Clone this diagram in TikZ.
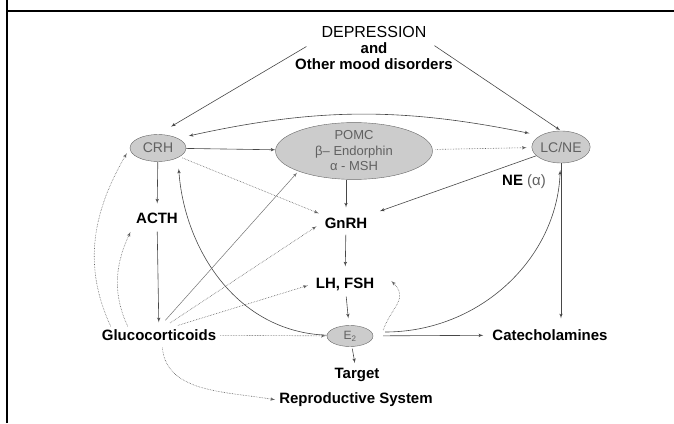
\documentclass[tikz,border=0pt]{standalone}
\usepackage{fontspec}
\setmainfont{Liberation Sans}
\usepackage{tikz}
\usetikzlibrary{arrows,shapes}
\definecolor{glandfill}{gray}{0.80}
\definecolor{glandline}{gray}{0.40}
\definecolor{glandtext}{gray}{0.38}
\definecolor{edgegray}{gray}{0.28}
\tikzstyle{gland} = [ellipse, draw=glandline, fill=glandfill, text=glandtext, inner sep=0pt, font=\fontsize{14}{16}\selectfont]
\tikzstyle{factor} = [inner sep=3pt, font=\fontsize{15}{16}\selectfont\bfseries]
\tikzstyle{line} = [draw, line width=0.6pt, color=edgegray, -latex', shorten >=4pt, shorten <=3pt]
\tikzstyle{inhib} = [line, densely dotted, color=black!62]

\begin{document}
\begin{tikzpicture}[x=1pt, y=1pt]
		\useasboundingbox (0,0) rectangle (674,423);
		% Frame
		\draw[line width=2pt] (7,0) -- (7,423);
		\draw[line width=2pt] (6,412) -- (674,412);
		% Place nodes
		\node [factor, align=center] (dep) at (374,375) {{\fontsize{16}{16}\selectfont\mdseries DEPRESSION}\\and\\Other mood disorders};
		\node [gland, minimum width=56, minimum height=27] (crh) at (158,275) {CRH};
		\node [gland, minimum width=157, minimum height=48, align=center, font=\fontsize{13}{15.5}\selectfont] (pomc) at (354,272) {POMC\\β– Endorphin\\α - MSH};
		\node [gland, minimum width=57, minimum height=32] (lcne) at (561,276) {LC/NE};
		\node [factor] (acth) at (157,205) {ACTH};
		\node [factor] (gnrh) at (346,200) {GnRH};
		\node [factor] (lhfsh) at (345,139) {LH, FSH};
		\node [factor] (gluco) at (159,88) {Glucocorticoids};
		\node [gland, minimum width=46, minimum height=21, font=\fontsize{12}{14}\selectfont] (e2) at (350,87) {E\textsubscript{2}};
		\node [factor] (cat) at (550,88) {Catecholamines};
		\node [factor] (target) at (357,48) {Target};
		\node [factor] (repro) at (356,23) {Reproductive System};
		\node [factor] (ne) at (524,241) {NE {\mdseries\color{glandtext}(α)}};
		\coordinate (depL) at (309,378);
		\coordinate (depR) at (432,379);
		% Draw edges
		\path [line, shorten >=15pt] (depL) -- (crh.north);
		\path [line, shorten >=1pt] (depR) -- (lcne.north);
		\path [line, latex'-latex', shorten <=11pt, shorten >=11pt] (crh.north east) to[bend left=12] (lcne.north west);
		\path [line, shorten >=0pt, shorten <=0pt] (crh) -- (pomc);
		\path [inhib, shorten >=5pt] (pomc) -- (lcne);
		\path [inhib, shorten >=3pt] (crh) -- (gnrh.north west);
		\path [line, shorten <=0pt, shorten >=7pt] (gnrh.north |- pomc.south) -- (gnrh.north);
		\path [line, shorten <=0pt, shorten >=10pt] (lcne) -- (gnrh.north east);
		\path [line, shorten <=0pt, shorten >=6pt] (crh) -- (acth);
		\path [line, shorten <=5pt, shorten >=4pt] (acth) -- (gluco);
		\path [line, shorten >=8pt] (gnrh) -- (lhfsh);
		\path [line, shorten >=7pt] (lhfsh) -- (e2);
		\path [line, shorten <=2pt, shorten >=2pt] (e2) -- (target);
		\path [line, shorten <=10pt, shorten >=6pt] (e2) -- (cat);
		\path [line, shorten <=0pt, shorten >=8pt] (lcne.south) -- (lcne.south |- cat.north);
		\path [line, shorten <=0pt, shorten >=7pt] ([xshift=12pt,yshift=4pt]e2.east) to[out=0, in=-92] (lcne);
		\path [line, shorten <=0pt, shorten >=11pt] (e2) to[out=178, in=-86] (crh.south east);
		\path [inhib, shorten <=0pt, shorten >=6pt] ([xshift=12pt]gluco.north west) to[out=115, in=-120] (crh.west);
		\path [inhib, shorten <=0pt, shorten >=6pt] ([xshift=29pt]gluco.north west) to[out=115, in=-115] (acth.south west);
		\path [line, line width=0.5pt, color=black!55, shorten <=8pt, shorten >=2pt] ([xshift=1pt]gluco.north) -- (pomc.south west);
		\path [inhib, shorten <=6pt, shorten >=6pt] ([xshift=6pt]gluco.north) -- (gnrh.west);
		\path [inhib, shorten <=3pt, shorten >=5pt] ([xshift=16pt]gluco.north) -- (lhfsh.west);
		\path [inhib, shorten <=1pt, shorten >=1pt] (gluco) -- (e2);
		\path [inhib, shorten <=4pt, shorten >=1pt] ([xshift=3pt]gluco.south) to[out=-85, in=170] (repro.west);
		\path [inhib, shorten <=0pt, shorten >=0pt] ([xshift=10pt,yshift=6pt]e2.east) to[out=70, in=-45, looseness=1.3] ([xshift=14pt,yshift=3pt]lhfsh.east);
	\end{tikzpicture}
\end{document}
